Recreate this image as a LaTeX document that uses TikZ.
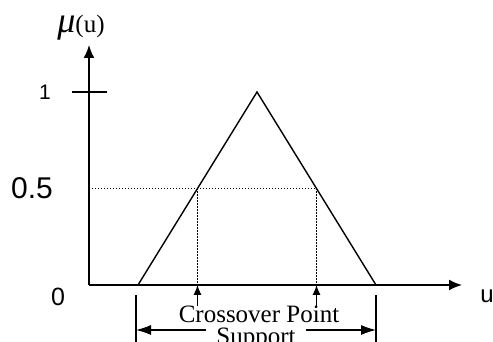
\documentclass[tikz,border=0pt]{standalone}
\usepackage{fontspec}
\setmainfont{Liberation Serif}
\newfontfamily\axisfont{Liberation Sans}
\usetikzlibrary{arrows.meta}

\begin{document}
\begin{tikzpicture}[
  x=1pt, y=1pt,
  every node/.style={inner sep=1pt},
  axis/.style={draw, line width=1.7pt, -{Latex[length=13pt, width=11pt]}},
  tick/.style={draw, line width=1.4pt},
  member/.style={draw, line width=1.4pt, line join=miter},
  level/.style={draw, line width=1.3pt, dash pattern=on 1.3pt off 1.7pt},
  pointer/.style={draw, line width=1.1pt, -{Latex[length=10pt, width=8pt]}},
  span/.style={draw, line width=1.1pt, -{Latex[length=15pt, width=10pt]}},
  bar/.style={draw, line width=1.1pt},
  num/.style={font=\axisfont\fontsize{22}{22}\selectfont},
  txt/.style={font=\fontsize{25}{25}\selectfont, inner sep=0pt, anchor=base}]

  \useasboundingbox (0,0) rectangle (493,342);

  % ---- axes ---------------------------------------------------------------
  \coordinate (O)    at (89,57);
  \coordinate (ytop) at (89,297);
  \coordinate (xend) at (462,57);
  \coordinate (t1l)  at (72,250);
  \coordinate (t1r)  at (107,250);
  \draw[axis] (O) -- (ytop);
  \draw[axis] (O) -- (xend);
  \draw[tick] (t1l) -- (t1r);

  \node (mu)   at (81,314) {{\fontsize{36}{36}\selectfont\itshape μ}{\fontsize{25}{25}\selectfont(u)}};
  \node[num, font=\axisfont\fontsize{21}{21}\selectfont] (one)  at (45,250) {1};
  \node[num, font=\axisfont\fontsize{30}{30}\selectfont] (half) at (32,154) {0.5};
  \node[num, font=\axisfont\fontsize{25}{25}\selectfont] (zero) at (58,45)  {0};
  \node[num, font=\axisfont\fontsize{24}{24}\selectfont] (u)    at (487,46) {u};

  % ---- membership function -----------------------------------------------
  \coordinate (bl)   at (138,57);
  \coordinate (apex) at (257,250);
  \coordinate (br)   at (376,57);
  \draw[member] (bl) -- (apex) -- (br);

  % crossover points at mu = 0.5
  \coordinate (hl) at (89,153.5);
  \coordinate (cl) at (197.5,153.5);
  \coordinate (cr) at (316.5,153.5);
  \draw[level] (hl) -- (cr);
  \draw[level] (cl) -- (cl |- O);
  \draw[level] (cr) -- (cr |- O);

  % ---- labels below the axis ---------------------------------------------
  \node[txt] (cross) at (259,19) {Crossover Point};
  \draw[pointer] (cl |- cross.north) -- (cl |- O);
  \draw[pointer] (cr |- cross.north) -- (cr |- O);

  \coordinate (sl) at (136,12);
  \coordinate (sr) at (376,12);
  \draw[bar] (136,47) -- (136,0);
  \draw[bar] (376,47) -- (376,0);
  \node[txt, inner xsep=10pt] (supp) at (256,-3) {Support};
  \draw[span] (supp.west |- sl) -- (sl);
  \draw[span] (supp.east |- sr) -- (sr);
\end{tikzpicture}
\end{document}
